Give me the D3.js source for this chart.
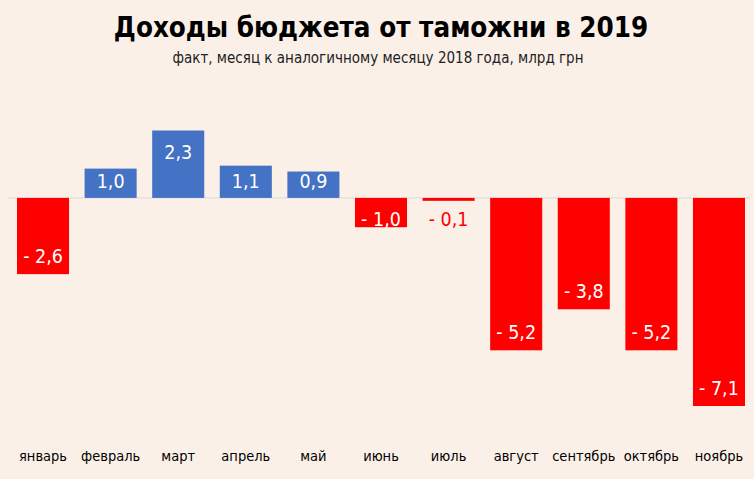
<!DOCTYPE html>
<html>
<head>
<meta charset="utf-8">
<script src="https://cdn.jsdelivr.net/npm/d3@7"></script>
<style>
  body { margin: 0; background: #FBF0E8; }
  svg { display: block; }
  text { font-family: "DejaVu Sans Condensed", "Liberation Sans Narrow", "Open Sans", sans-serif; }
</style>
</head>
<body>
<svg width="754" height="479"></svg>
<script>
const months = ["январь", "февраль", "март", "апрель", "май", "июнь", "июль", "август", "сентябрь", "октябрь", "ноябрь"]
const values = [-2.6, 1.0, 2.3, 1.1, 0.9, -1.0, -0.1, -5.2, -3.8, -5.2, -7.1]
const title = "Доходы бюджета от таможни в 2019"
const subtitle = "факт, месяц к аналогичному месяцу 2018 года, млрд грн"

const width = 754
const height = 479
const svg = d3.select("svg")

svg.append("rect").attr("width", width).attr("height", height).attr("fill", "#FBF0E8")

const xScale = d3.scaleBand().domain(months).range([17, 745]).paddingInner(0.23).paddingOuter(0)
const yScale = d3.scaleLinear().domain([-7.1, 2.3]).range([406, 130.5])
const zero = yScale(0)

const fmt = v => (v < 0 ? "- " : "") + d3.format(".1f")(Math.abs(v)).replace(".", ",")

// title
svg.append("text").attr("x", 381).attr("y", 37).attr("text-anchor", "middle")
  .style("font-weight", "bold").style("font-size", "27.5px").attr("fill", "#000")
  .text(title)
svg.append("text").attr("x", 378).attr("y", 63).attr("text-anchor", "middle")
  .style("font-size", "15px").attr("fill", "#222")
  .text(subtitle)

// zero line
svg.append("line").attr("x1", 8).attr("x2", 750)
  .attr("y1", zero).attr("y2", zero)
  .attr("stroke", "#D9D9D9").attr("stroke-width", 1)

const data = months.map((m, i) => ({ m, v: values[i] }))

svg.selectAll("rect.bar").data(data).enter().append("rect")
  .attr("class", "bar")
  .attr("x", d => xScale(d.m))
  .attr("width", xScale.bandwidth())
  .attr("y", d => yScale(Math.max(0, d.v)))
  .attr("height", d => Math.max(2, Math.abs(yScale(d.v) - zero)))
  .attr("fill", d => d.v >= 0 ? "#4472C4" : "#FF0000")

// value labels, inside end; pushed outwards from the axis for short bars
svg.selectAll("text.val").data(data).enter().append("text")
  .attr("class", "val")
  .attr("x", d => xScale(d.m) + xScale.bandwidth() / 2)
  .attr("y", d => d.v >= 0
    ? Math.min(yScale(d.v) + 28, zero - 10)
    : Math.max(yScale(d.v) - 11, zero + 28))
  .attr("text-anchor", "middle")
  .style("font-size", "19.5px")
  .attr("fill", d => Math.abs(d.v) < 0.5 ? "#FF0000" : "#fff")
  .text(d => fmt(d.v))

// month axis
const xAxis = d3.axisBottom(xScale).tickSize(0).tickPadding(0)
const gx = svg.append("g").attr("transform", "translate(0,451)").call(xAxis)
gx.select(".domain").remove()
gx.selectAll("text").style("font-size", "14.5px").attr("fill", "#000")
  .style("font-family", "'DejaVu Sans Condensed', sans-serif")
</script>
</body>
</html>
